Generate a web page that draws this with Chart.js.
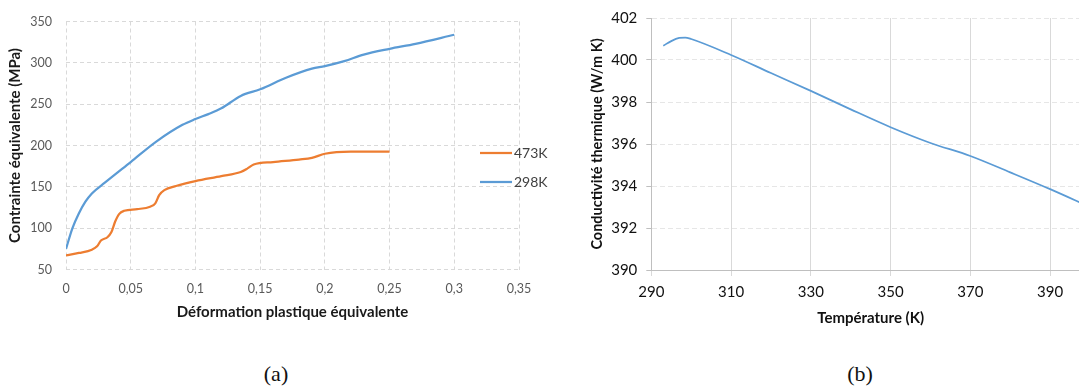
<!DOCTYPE html>
<html><head><meta charset="utf-8">
<script src="https://cdn.jsdelivr.net/npm/chart.js@4"></script>
<style>
html,body{margin:0;padding:0;background:#fff;width:1079px;height:389px;overflow:hidden;position:relative}
#wa{position:absolute;left:0;top:0;width:560px;height:340px}
#wb{position:absolute;left:560px;top:0;width:570px;height:340px}
.cap{position:absolute;top:361px;font-family:"Liberation Serif",serif;font-size:22px;color:#111;transform:translateX(-50%);white-space:nowrap}
</style></head>
<body>
<div id="wa"><canvas id="ca" width="560" height="340"></canvas></div>
<div id="wb"><canvas id="cb" width="570" height="340"></canvas></div>
<div class="cap" style="left:276px">(a)</div>
<div class="cap" style="left:860px">(b)</div>
<script>
// ---- Panel (a) data ----
const seriesLabelsA = ["473K", "298K"];
const strain473 = [0, 0.01, 0.02, 0.024, 0.027, 0.032, 0.035, 0.038, 0.041, 0.045, 0.055, 0.065, 0.069, 0.072, 0.076, 0.085, 0.1, 0.12, 0.135, 0.14, 0.145, 0.16, 0.18, 0.19, 0.2, 0.22, 0.25];
const stress473 = [67, 70, 74, 78, 85, 89, 95, 108, 117, 121, 123, 126, 130, 140, 146, 151, 157, 163, 168, 172, 177, 180, 183, 185, 190, 192.5, 192.5];
const strain298 = [0, 0.005, 0.01, 0.015, 0.02, 0.03, 0.05, 0.07, 0.09, 0.1, 0.11, 0.12, 0.135, 0.15, 0.17, 0.19, 0.2, 0.215, 0.23, 0.25, 0.27, 0.3];
const stress298 = [75, 100, 118, 132, 142, 155, 180, 205, 225, 232, 238, 245, 260, 268, 282, 293, 296, 302, 310, 317, 323, 334];
const xTicksA = [0, 0.05, 0.1, 0.15, 0.2, 0.25, 0.3, 0.35];
const yTicksA = [50, 100, 150, 200, 250, 300, 350];
const xTitleA = "Déformation plastique équivalente";
const yTitleA = "Contrainte équivalente (MPa)";

// ---- Panel (b) data ----
const temperature = [293, 295, 297, 298.5, 300, 310, 320, 330, 340, 350, 360, 370, 380, 390, 400];
const conductivity = [400.68, 400.9, 401.05, 401.07, 401.0, 400.24, 399.38, 398.53, 397.65, 396.8, 396.05, 395.43, 394.65, 393.85, 393.0];
const xTicksB = [290, 310, 330, 350, 370, 390];
const yTicksB = [390, 392, 394, 396, 398, 400, 402];
const xTitleB = "Température (K)";
const yTitleB = "Conductivité thermique (W/m K)";

const FONT = "Lato, 'Open Sans', sans-serif";
const pts = (xs, ys) => xs.map((x, i) => ({x: x, y: ys[i]}));
const fmtComma = v => String(Math.round(v * 100) / 100).replace('.', ',');

const sideLegend = {
  id: 'sideLegend',
  afterDraw(chart) {
    const ctx = chart.ctx;
    const rows = [153, 182];
    chart.data.datasets.forEach((ds, i) => {
      const y = rows[i];
      ctx.save();
      ctx.strokeStyle = ds.borderColor;
      ctx.lineWidth = 2.25;
      ctx.beginPath(); ctx.moveTo(480, y); ctx.lineTo(512, y); ctx.stroke();
      ctx.fillStyle = '#404040';
      ctx.font = "14px " + FONT;
      ctx.textBaseline = 'middle';
      ctx.fillText(ds.label, 514, y + 0.5);
      ctx.restore();
    });
  }
};

new Chart(document.getElementById('ca'), {
  type: 'line',
  data: {
    datasets: [
      {label: seriesLabelsA[0], data: pts(strain473, stress473), borderColor: '#ED7D31', borderWidth: 2.25, pointRadius: 0, cubicInterpolationMode: 'monotone', fill: false},
      {label: seriesLabelsA[1], data: pts(strain298, stress298), borderColor: '#5B9BD5', borderWidth: 2.25, pointRadius: 0, cubicInterpolationMode: 'monotone', fill: false}
    ]
  },
  options: {
    responsive: false, animation: false,
    layout: {padding: {left: 0, right: 41, top: 12.5, bottom: 0}},
    plugins: {legend: {display: false}, tooltip: {enabled: false}},
    scales: {
      x: {
        type: 'linear', min: 0, max: 0.35,
        afterBuildTicks: s => { s.ticks = xTicksA.map(v => ({value: v})); },
        afterFit: s => { s.height = 70.5; },
        grid: {color: '#d9d9d9', drawTicks: false, lineWidth: 1},
        border: {display: false, dash: [4, 3]},
        ticks: {color: '#595959', font: {family: FONT, size: 12.5}, padding: 12, callback: v => fmtComma(v), maxRotation: 0},
        title: {display: true, text: xTitleA, color: '#1a1a1a', font: {family: FONT, size: 15, weight: 'bold'}, padding: {top: 0, bottom: 19}}
      },
      y: {
        min: 50, max: 350,
        afterBuildTicks: s => { s.ticks = yTicksA.map(v => ({value: v})); },
        afterFit: s => { s.width = 66; },
        grid: {color: '#d9d9d9', drawTicks: false, lineWidth: 1},
        border: {display: false, dash: [4, 3]},
        ticks: {color: '#595959', font: {family: FONT, size: 12.5}, padding: 14},
        title: {display: true, text: yTitleA, color: '#1a1a1a', font: {family: FONT, size: 15, weight: 'bold'}, padding: {top: 6, bottom: 0}}
      }
    }
  },
  plugins: [sideLegend]
});

new Chart(document.getElementById('cb'), {
  type: 'line',
  data: {
    datasets: [
      {label: 'Conductivité', data: pts(temperature, conductivity), borderColor: '#5B9BD5', borderWidth: 1.75, pointRadius: 0, cubicInterpolationMode: 'monotone', fill: false}
    ]
  },
  options: {
    responsive: false, animation: false,
    layout: {padding: {left: 0, right: 40, top: 16, bottom: 0}},
    plugins: {legend: {display: false}, tooltip: {enabled: false}},
    scales: {
      x: {
        type: 'linear', min: 290, max: 400,
        afterBuildTicks: s => { s.ticks = xTicksB.map(v => ({value: v})); },
        afterFit: s => { s.height = 70; },
        grid: {color: '#d9d9d9', drawTicks: true, tickLength: 6, lineWidth: 1},
        border: {display: true, color: '#bfbfbf', width: 1},
        ticks: {color: '#111', font: {family: FONT, size: 15}, padding: 7, maxRotation: 0},
        title: {display: true, text: xTitleB, color: '#111', font: {family: FONT, size: 15, weight: 'bold'}, padding: {top: 0, bottom: 13}}
      },
      y: {
        min: 390, max: 402,
        afterBuildTicks: s => { s.ticks = yTicksB.map(v => ({value: v})); },
        afterFit: s => { s.width = 91.3; },
        grid: {color: '#e6e6e6', drawTicks: true, tickLength: 5, tickColor: '#bfbfbf', lineWidth: 1},
        border: {display: true, color: '#bfbfbf', width: 1, dash: [5, 3]},
        ticks: {color: '#111', font: {family: FONT, size: 15}, padding: 9},
        title: {display: true, text: yTitleB, color: '#111', font: {family: FONT, size: 14.5, weight: 'bold'}, padding: {top: 29, bottom: 0}}
      }
    }
  }
});
</script>
</body></html>
